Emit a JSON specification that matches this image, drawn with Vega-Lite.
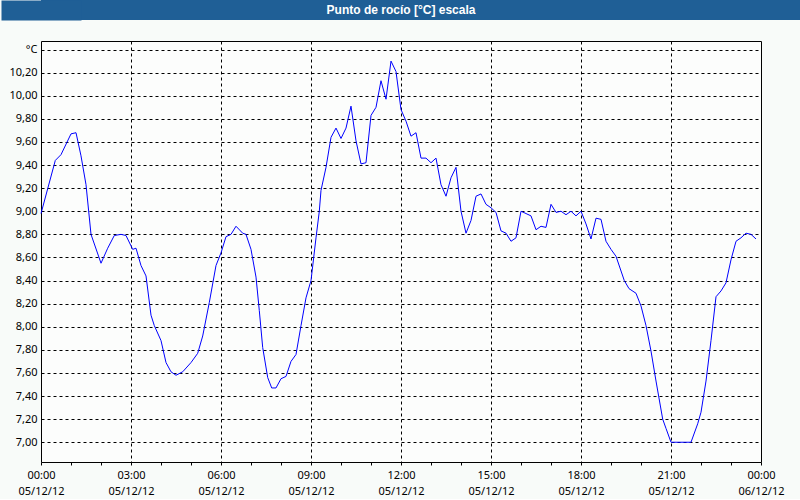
{
  "$schema": "https://vega.github.io/schema/vega-lite/v6.json",
  "background": "#f8fbf9",
  "padding": {"left": 0, "top": 0, "right": 0, "bottom": 2},
  "spacing": 20,
  "config": {"font": "Noto Sans", "view": {"stroke": "#000000", "strokeWidth": 1}},
  "vconcat": [
    {
      "width": 760,
      "height": 20,
      "view": {"fill": "#1f5f96", "stroke": null},
      "data": {"values": [{"titulo": "Punto de rocío [°C] escala"}]},
      "mark": {"type": "text", "font": "Liberation Sans", "fontWeight": "bold", "fontSize": 12, "color": "#ffffff", "align": "center", "baseline": "middle"},
      "encoding": {
        "text": {"field": "titulo"},
        "x": {"datum": 0.4737, "type": "quantitative", "scale": {"domain": [0, 1], "nice": false, "zero": false}, "axis": null},
        "y": {"datum": 0.5, "type": "quantitative", "scale": {"domain": [0, 1], "nice": false},
              "axis": {"domain": true, "domainColor": "#1f5f96", "domainWidth": 80, "labels": false, "ticks": false, "grid": false, "title": null}}
      }
    },
    {
      "width": 720,
      "height": 421,
      "view": {"fill": "#fcfdfc", "stroke": "#000000"},
      "data": {"values": [
        {"hora": 0, "punto_rocio": 8.98},
        {"hora": 0.477, "punto_rocio": 9.44},
        {"hora": 0.667, "punto_rocio": 9.49},
        {"hora": 1.0, "punto_rocio": 9.67},
        {"hora": 1.167, "punto_rocio": 9.68},
        {"hora": 1.333, "punto_rocio": 9.48},
        {"hora": 1.5, "punto_rocio": 9.23},
        {"hora": 1.667, "punto_rocio": 8.80},
        {"hora": 2.0, "punto_rocio": 8.55},
        {"hora": 2.223, "punto_rocio": 8.68},
        {"hora": 2.443, "punto_rocio": 8.79},
        {"hora": 2.667, "punto_rocio": 8.80},
        {"hora": 2.833, "punto_rocio": 8.79},
        {"hora": 3.057, "punto_rocio": 8.67},
        {"hora": 3.167, "punto_rocio": 8.68},
        {"hora": 3.333, "punto_rocio": 8.53},
        {"hora": 3.5, "punto_rocio": 8.44},
        {"hora": 3.667, "punto_rocio": 8.10},
        {"hora": 3.777, "punto_rocio": 8.01},
        {"hora": 4.0, "punto_rocio": 7.88},
        {"hora": 4.167, "punto_rocio": 7.69},
        {"hora": 4.333, "punto_rocio": 7.61},
        {"hora": 4.5, "punto_rocio": 7.58},
        {"hora": 4.723, "punto_rocio": 7.61},
        {"hora": 5.0, "punto_rocio": 7.69},
        {"hora": 5.223, "punto_rocio": 7.77},
        {"hora": 5.39, "punto_rocio": 7.92},
        {"hora": 5.61, "punto_rocio": 8.21},
        {"hora": 5.833, "punto_rocio": 8.53},
        {"hora": 6.0, "punto_rocio": 8.64},
        {"hora": 6.167, "punto_rocio": 8.78},
        {"hora": 6.333, "punto_rocio": 8.80},
        {"hora": 6.5, "punto_rocio": 8.87},
        {"hora": 6.723, "punto_rocio": 8.81},
        {"hora": 6.833, "punto_rocio": 8.80},
        {"hora": 7.0, "punto_rocio": 8.67},
        {"hora": 7.167, "punto_rocio": 8.43},
        {"hora": 7.277, "punto_rocio": 8.14},
        {"hora": 7.39, "punto_rocio": 7.82},
        {"hora": 7.557, "punto_rocio": 7.56},
        {"hora": 7.69, "punto_rocio": 7.47},
        {"hora": 7.833, "punto_rocio": 7.47},
        {"hora": 8.0, "punto_rocio": 7.55},
        {"hora": 8.167, "punto_rocio": 7.57},
        {"hora": 8.333, "punto_rocio": 7.70},
        {"hora": 8.5, "punto_rocio": 7.76},
        {"hora": 8.667, "punto_rocio": 8.01},
        {"hora": 8.833, "punto_rocio": 8.25},
        {"hora": 9.0, "punto_rocio": 8.40},
        {"hora": 9.167, "punto_rocio": 8.77},
        {"hora": 9.277, "punto_rocio": 9.00},
        {"hora": 9.333, "punto_rocio": 9.18},
        {"hora": 9.5, "punto_rocio": 9.38},
        {"hora": 9.667, "punto_rocio": 9.64},
        {"hora": 9.833, "punto_rocio": 9.72},
        {"hora": 10.0, "punto_rocio": 9.63},
        {"hora": 10.167, "punto_rocio": 9.72},
        {"hora": 10.333, "punto_rocio": 9.91},
        {"hora": 10.5, "punto_rocio": 9.61},
        {"hora": 10.667, "punto_rocio": 9.41},
        {"hora": 10.833, "punto_rocio": 9.42},
        {"hora": 11.0, "punto_rocio": 9.83},
        {"hora": 11.167, "punto_rocio": 9.90},
        {"hora": 11.333, "punto_rocio": 10.13},
        {"hora": 11.5, "punto_rocio": 9.97},
        {"hora": 11.667, "punto_rocio": 10.30},
        {"hora": 11.833, "punto_rocio": 10.21},
        {"hora": 12.0, "punto_rocio": 9.88},
        {"hora": 12.167, "punto_rocio": 9.78},
        {"hora": 12.333, "punto_rocio": 9.65},
        {"hora": 12.5, "punto_rocio": 9.68},
        {"hora": 12.667, "punto_rocio": 9.46},
        {"hora": 12.833, "punto_rocio": 9.46},
        {"hora": 13.0, "punto_rocio": 9.42},
        {"hora": 13.167, "punto_rocio": 9.46},
        {"hora": 13.333, "punto_rocio": 9.23},
        {"hora": 13.5, "punto_rocio": 9.13},
        {"hora": 13.667, "punto_rocio": 9.29},
        {"hora": 13.833, "punto_rocio": 9.38},
        {"hora": 14.0, "punto_rocio": 9.00},
        {"hora": 14.167, "punto_rocio": 8.81},
        {"hora": 14.333, "punto_rocio": 8.92},
        {"hora": 14.5, "punto_rocio": 9.13},
        {"hora": 14.667, "punto_rocio": 9.15},
        {"hora": 14.833, "punto_rocio": 9.06},
        {"hora": 15.0, "punto_rocio": 9.03},
        {"hora": 15.167, "punto_rocio": 8.99},
        {"hora": 15.333, "punto_rocio": 8.83},
        {"hora": 15.5, "punto_rocio": 8.81},
        {"hora": 15.667, "punto_rocio": 8.74},
        {"hora": 15.833, "punto_rocio": 8.77},
        {"hora": 16.0, "punto_rocio": 9.00},
        {"hora": 16.167, "punto_rocio": 8.98},
        {"hora": 16.333, "punto_rocio": 8.96},
        {"hora": 16.5, "punto_rocio": 8.84},
        {"hora": 16.667, "punto_rocio": 8.87},
        {"hora": 16.833, "punto_rocio": 8.86},
        {"hora": 17.0, "punto_rocio": 9.06},
        {"hora": 17.167, "punto_rocio": 8.99},
        {"hora": 17.333, "punto_rocio": 9.00},
        {"hora": 17.5, "punto_rocio": 8.97},
        {"hora": 17.667, "punto_rocio": 9.00},
        {"hora": 17.833, "punto_rocio": 8.96},
        {"hora": 18.0, "punto_rocio": 9.00},
        {"hora": 18.167, "punto_rocio": 8.89},
        {"hora": 18.333, "punto_rocio": 8.76},
        {"hora": 18.5, "punto_rocio": 8.94},
        {"hora": 18.667, "punto_rocio": 8.93},
        {"hora": 18.833, "punto_rocio": 8.74},
        {"hora": 19.0, "punto_rocio": 8.67},
        {"hora": 19.167, "punto_rocio": 8.61},
        {"hora": 19.443, "punto_rocio": 8.40},
        {"hora": 19.6, "punto_rocio": 8.33},
        {"hora": 19.833, "punto_rocio": 8.29},
        {"hora": 20.0, "punto_rocio": 8.18},
        {"hora": 20.167, "punto_rocio": 8.01},
        {"hora": 20.333, "punto_rocio": 7.79},
        {"hora": 20.5, "punto_rocio": 7.53},
        {"hora": 20.723, "punto_rocio": 7.20},
        {"hora": 20.833, "punto_rocio": 7.12},
        {"hora": 21.0, "punto_rocio": 7.00},
        {"hora": 21.667, "punto_rocio": 7.00},
        {"hora": 21.89, "punto_rocio": 7.16},
        {"hora": 22.0, "punto_rocio": 7.26},
        {"hora": 22.167, "punto_rocio": 7.53},
        {"hora": 22.333, "punto_rocio": 7.88},
        {"hora": 22.5, "punto_rocio": 8.26},
        {"hora": 22.667, "punto_rocio": 8.31},
        {"hora": 22.833, "punto_rocio": 8.38},
        {"hora": 23.0, "punto_rocio": 8.58},
        {"hora": 23.167, "punto_rocio": 8.74},
        {"hora": 23.333, "punto_rocio": 8.77},
        {"hora": 23.5, "punto_rocio": 8.81},
        {"hora": 23.667, "punto_rocio": 8.80},
        {"hora": 23.833, "punto_rocio": 8.76}
      ]},
      "mark": {"type": "line", "color": "#0000ff", "strokeWidth": 1},
      "encoding": {
        "x": {
          "field": "hora",
          "type": "quantitative",
          "scale": {"domain": [0, 24], "nice": false, "zero": false},
          "axis": {
            "values": [0,1,2,3,4,5,6,7,8,9,10,11,12,13,14,15,16,17,18,19,20,21,22,23,24],
            "title": null,
            "domain": false,
            "tickSize": 3,
            "tickColor": "#000000",
            "labelPadding": 4,
            "labelExpr": "datum.value % 3 == 0 ? [(datum.value == 24 ? '00:00' : (datum.value < 10 ? '0' : '') + datum.value + ':00'), (datum.value == 24 ? '06/12/12' : '05/12/12')] : ''",
            "labelFlush": false,
            "labelOverlap": false,
            "labelFontSize": 11,
            "labelColor": "#000000",
            "labelLineHeight": 16,
            "grid": true,
            "gridColor": "#000000",
            "gridDash": [3, 3],
            "gridOpacity": {"condition": {"test": "datum.value % 3 != 0 || datum.value == 0 || datum.value == 24", "value": 0}, "value": 1}
          }
        },
        "y": {
          "field": "punto_rocio",
          "type": "quantitative",
          "scale": {"domain": [6.829, 10.474], "nice": false, "zero": false},
          "axis": {
            "values": [7, 7.2, 7.4, 7.6, 7.8, 8, 8.2, 8.4, 8.6, 8.8, 9, 9.2, 9.4, 9.6, 9.8, 10, 10.2, 10.4],
            "title": null,
            "domain": false,
            "ticks": false,
            "labelPadding": 4,
            "minExtent": 40,
            "labelExpr": "datum.value > 10.3 ? '°C' : replace(format(datum.value, '.2f'), '.', ',')",
            "labelFlush": false,
            "labelFontSize": 11,
            "labelColor": "#000000",
            "grid": true,
            "gridColor": "#000000",
            "gridDash": [3, 3]
          }
        }
      }
    }
  ]
}
